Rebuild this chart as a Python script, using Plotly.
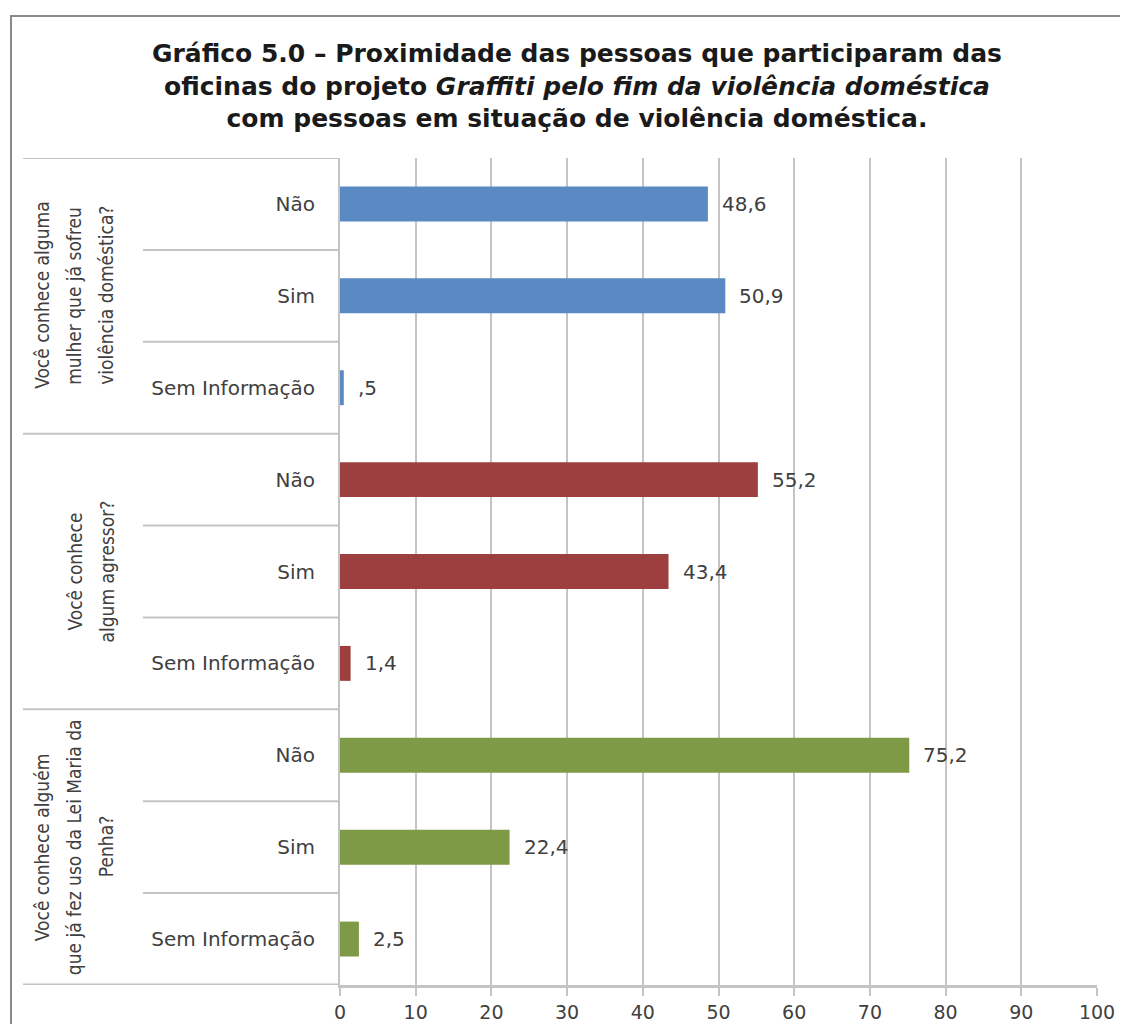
import plotly.graph_objects as go

# ---- data ----
questions = [
    ["Você conhece alguma", "mulher que já sofreu", "violência doméstica?"],
    ["Você conhece", "algum agressor?"],
    ["Você conhece alguém", "que já fez uso da Lei Maria da", "Penha?"],
]
answers = ["Não", "Sim", "Sem Informação"]
q1_values = [48.6, 50.9, 0.5]
q2_values = [55.2, 43.4, 1.4]
q3_values = [75.2, 22.4, 2.5]
x_ticks = [0, 10, 20, 30, 40, 50, 60, 70, 80, 90, 100]
colors = ["#5A89C4", "#9E3F3F", "#7F9A47"]

title_text = ("<b>Gráfico 5.0 – Proximidade das pessoas que participaram das<br>"
              "oficinas do projeto <i>Graffiti pelo fim da violência doméstica</i><br>"
              "com pessoas em situação de violência doméstica.</b>")

groups = [q1_values, q2_values, q3_values]


def fmt(v):
    s = f"{v:.1f}".replace(".", ",")
    if s.startswith("0,"):
        s = s[1:]
    return s


# page offset of the figure (body margin)
OX, OY = 8, 8
W, H = 1120, 1016
L, R, T, B = 332, 31, 150, 39
pw, ph = W - L - R, H - T - B


def px_x(page_px):
    return (page_px - OX - L) / pw


def px_y(page_py):
    return (H - B - (page_py - OY)) / ph


fig = go.Figure()
ypos, ytext = [], []
annotations = []
idx = 0
for g, vals in enumerate(groups):
    ys = list(range(idx, idx + len(vals)))
    fig.add_trace(go.Bar(
        x=vals, y=ys, orientation="h", width=0.38,
        marker=dict(color=colors[g], line=dict(width=0)),
        hoverinfo="x", showlegend=False,
    ))
    for y, v in zip(ys, vals):
        annotations.append(dict(
            x=v, y=y, xref="x", yref="y", text=fmt(v), showarrow=False,
            xanchor="left", yanchor="middle", xshift=12,
            font=dict(family="DejaVu Sans", size=20, color="#404040"),
        ))
    ypos += ys
    ytext += answers
    lines = questions[g]
    m = len(lines)
    for k, ln in enumerate(lines):
        annotations.append(dict(
            x=px_x(106 - (m - 1 - k) * 32), y=idx + 1, xref="paper", yref="y",
            text=ln, showarrow=False, textangle=-90,
            xanchor="center", yanchor="middle",
            font=dict(family="Liberation Sans Narrow, DejaVu Sans Condensed, sans-serif",
                      size=19, color="#404040"),
        ))
    idx += len(vals)

n = idx

# title
annotations.append(dict(
    x=px_x(577), y=px_y(86), xref="paper", yref="paper",
    text=title_text, showarrow=False, xanchor="center", yanchor="middle",
    font=dict(family="DejaVu Sans", size=25, color="#1a1a1a"),
))

shapes = []
line_col = "#c4c4c4"
# group separators
for b in [-0.5, 2.5, 5.5]:
    shapes.append(dict(type="line", xref="paper", yref="y",
                       x0=px_x(23), x1=0, y0=b, y1=b,
                       line=dict(color=line_col, width=2)))
shapes.append(dict(type="line", xref="paper", yref="y",
                   x0=px_x(23), x1=0, y0=n - 0.5, y1=n - 0.5,
                   line=dict(color=line_col, width=3)))
# sub separators
for b in [0.5, 1.5, 3.5, 4.5, 6.5, 7.5]:
    shapes.append(dict(type="line", xref="paper", yref="y",
                       x0=px_x(143), x1=0, y0=b, y1=b,
                       line=dict(color=line_col, width=2)))
# outer border
shapes.append(dict(type="rect", xref="paper", yref="paper",
                   x0=px_x(11), x1=px_x(1140),
                   y0=px_y(1040), y1=px_y(16),
                   line=dict(color="#8a8a8a", width=2), fillcolor="rgba(0,0,0,0)"))

fig.update_layout(
    width=W, height=H,
    margin=dict(l=L, r=R, t=T, b=B, autoexpand=False),
    paper_bgcolor="white", plot_bgcolor="white",
    bargap=0.6,
    xaxis=dict(
        range=[0, 100], tickvals=x_ticks, ticktext=[str(t) for t in x_ticks],
        showgrid=True, gridcolor="#c4c4c4", gridwidth=2, zeroline=False,
        showline=True, linecolor="#c4c4c4", linewidth=3,
        ticks="outside", ticklen=8, tickcolor="#c4c4c4", tickwidth=2,
        tickfont=dict(family="DejaVu Sans", size=19, color="#404040"),
        fixedrange=True,
    ),
    yaxis=dict(
        range=[n - 0.5, -0.5], tickvals=ypos, ticktext=ytext,
        showgrid=False, zeroline=False,
        showline=True, linecolor="#c4c4c4", linewidth=2,
        ticks="", ticklabelstandoff=19,
        tickfont=dict(family="DejaVu Sans", size=20, color="#404040"),
        fixedrange=True,
    ),
    annotations=annotations,
    shapes=shapes,
)

fig.write_html("out.html")
